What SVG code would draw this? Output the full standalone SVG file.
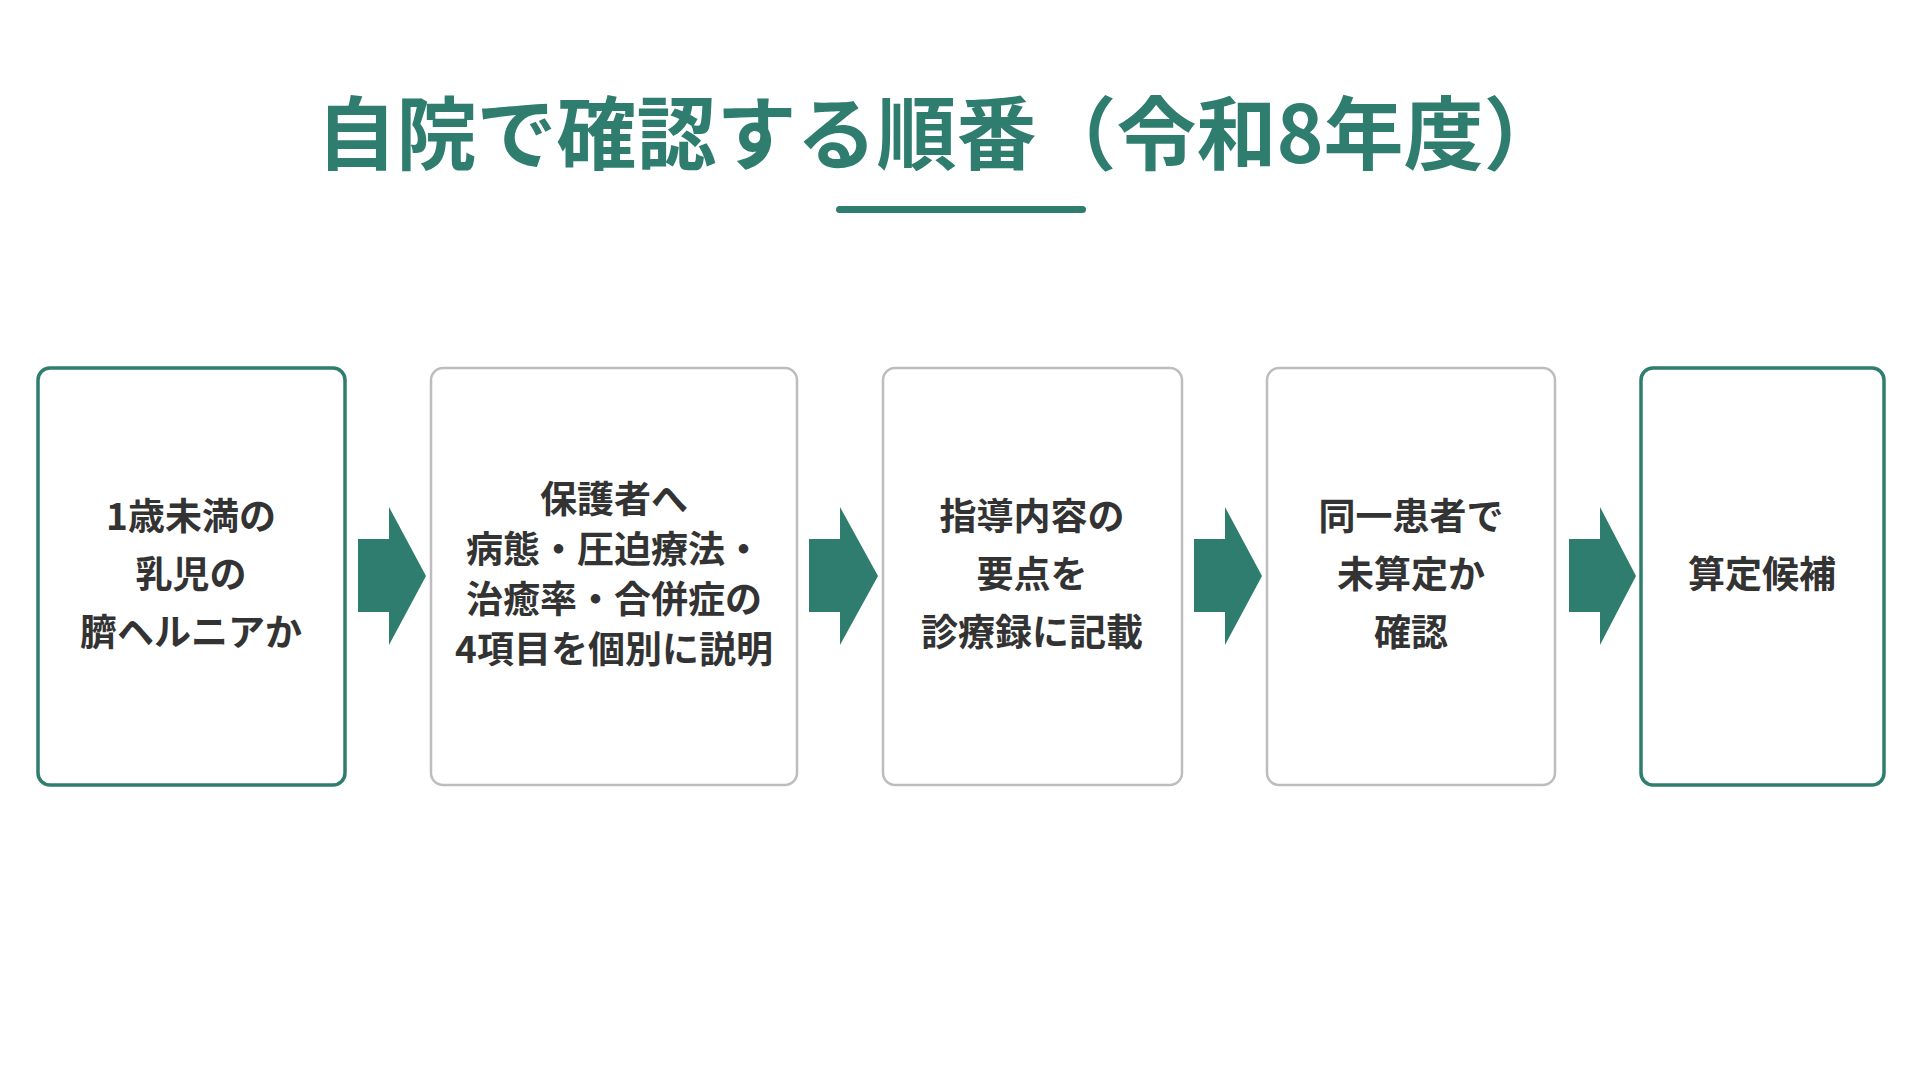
<svg xmlns="http://www.w3.org/2000/svg" width="1920" height="1080" viewBox="0 0 1920 1080">
<style>
text{font-family:"Noto Sans CJK JP","Noto Sans",sans-serif;font-weight:700;text-anchor:middle}
.t{font-size:37px;fill:#333}
.g{fill:#fff;stroke:#2e7d6e;stroke-width:3.5}
.n{fill:#fff;stroke:#bdbdbd;stroke-width:2.5}
.a{fill:#2e7d6e}
</style>
<rect width="1920" height="1080" fill="#fff"/>
<g id="title">
<text x="940" y="163" style="font-size:80px;fill:#2e7d6e">自院で確認する順番（令和8年度）</text>
<rect x="836" y="206" width="250" height="7" rx="3.5" fill="#2e7d6e"/>
</g>
<g id="n1"><rect class="g" x="38" y="368" width="307" height="417" rx="12"/>
<text class="t"><tspan x="191" y="530">1歳未満の</tspan><tspan x="191" y="588">乳児の</tspan><tspan x="191" y="646">臍ヘルニアか</tspan></text></g>
<g id="n2"><rect class="n" x="431" y="368" width="366" height="417" rx="12"/>
<text class="t"><tspan x="614" y="513">保護者へ</tspan><tspan x="614" y="563">病態・圧迫療法・</tspan><tspan x="614" y="613">治癒率・合併症の</tspan><tspan x="614" y="663">4項目を個別に説明</tspan></text></g>
<g id="n3"><rect class="n" x="883" y="368" width="299" height="417" rx="12"/>
<text class="t"><tspan x="1032" y="530">指導内容の</tspan><tspan x="1032" y="588">要点を</tspan><tspan x="1032" y="646">診療録に記載</tspan></text></g>
<g id="n4"><rect class="n" x="1267" y="368" width="288" height="417" rx="12"/>
<text class="t"><tspan x="1411" y="530">同一患者で</tspan><tspan x="1411" y="588">未算定か</tspan><tspan x="1411" y="646">確認</tspan></text></g>
<g id="n5"><rect class="g" x="1641" y="368" width="243" height="417" rx="12"/>
<text class="t" x="1762" y="588">算定候補</text></g>
<g id="connectors">
<polygon class="a" points="358,539 389,539 389,507 426,576 389,645 389,612 358,612"/>
<polygon class="a" points="809,539 840,539 840,507 878,576 840,645 840,612 809,612"/>
<polygon class="a" points="1194,539 1225,539 1225,507 1262,576 1225,645 1225,612 1194,612"/>
<polygon class="a" points="1569,539 1600,539 1600,507 1636,576 1600,645 1600,612 1569,612"/>
</g>
</svg>
